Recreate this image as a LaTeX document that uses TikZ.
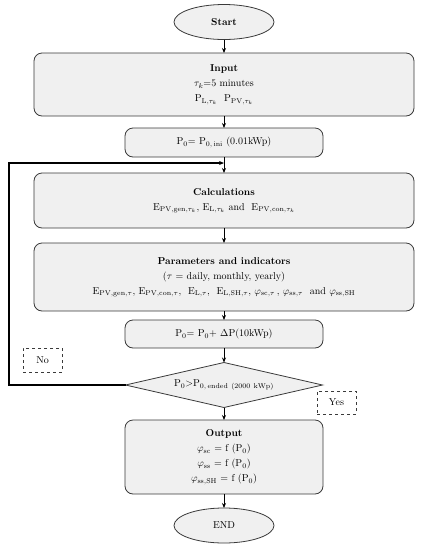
\documentclass[tikz,border=0pt]{standalone}
\usetikzlibrary{shapes.geometric,arrows.meta}
\definecolor{boxfill}{HTML}{F0F0F0}
\definecolor{boxline}{HTML}{3A3A3A}
\begin{document}
\begin{tikzpicture}[x=1pt,y=-1pt,
  font=\fontsize{10}{15}\selectfont,
  every node/.style={inner sep=0pt,outer sep=0pt,align=center},
  rbox/.style={draw=boxline,fill=boxfill,line width=0.8pt,rounded corners=8pt,rectangle},
  oval/.style={draw=boxline,fill=boxfill,line width=0.8pt,ellipse},
  decision/.style={draw=boxline,fill=boxfill,line width=0.8pt,diamond,aspect=4.38},
  tag/.style={draw=boxline,dashed,line width=0.8pt,fill=white,rectangle},
  arr/.style={-{Stealth[length=5pt,width=4pt]},line width=0.9pt,black},
  looparr/.style={-{Stealth[length=5pt,width=4pt]},line width=1.4pt,black}]
\useasboundingbox (0,0) rectangle (427,550);

\node[oval,minimum width=100pt,minimum height=35pt] (start) at (224,22) {\textbf{Start}};

\node[rbox,minimum width=380pt,minimum height=63pt] (input) at (224,84.5)
  {\textbf{Input}\\ $\tau_{k}$=5 minutes\\ $\mathrm{P}_{\mathrm{L},\tau_k}$\ \ $\mathrm{P}_{\mathrm{PV},\tau_k}$};

\node[rbox,minimum width=198pt,minimum height=29pt] (p0) at (224,142.5)
  {$\mathrm{P}_{0}$= $\mathrm{P}_{0,\,\mathrm{ini}}$ (0.01kWp)};

\node[rbox,minimum width=380pt,minimum height=55pt] (calc) at (224,200.5)
  {\textbf{Calculations}\\ $\mathrm{E}_{\mathrm{PV,gen},\tau_k}$, $\mathrm{E}_{\mathrm{L},\tau_k}$ and\ \ $\mathrm{E}_{\mathrm{PV,con},\tau_k}$};

\node[rbox,minimum width=380pt,minimum height=68pt] (param) at (224,277)
  {\textbf{Parameters and indicators}\\ ($\tau$ = daily, monthly, yearly)\\
   $\mathrm{E}_{\mathrm{PV,gen},\tau}$, $\mathrm{E}_{\mathrm{PV,con},\tau}$,\ \ $\mathrm{E}_{\mathrm{L},\tau}$,\ \ $\mathrm{E}_{\mathrm{L,SH},\tau}$, $\varphi_{\mathrm{sc},\tau}$\,, $\varphi_{\mathrm{ss},\tau}$\ \ and $\varphi_{\mathrm{ss,SH}}$};

\node[rbox,minimum width=198pt,minimum height=28pt] (pinc) at (224,334)
  {$\mathrm{P}_{0}$= $\mathrm{P}_{0}$+ $\Delta$P(10kWp)};

\node[tag,minimum width=39pt,minimum height=24pt] (no) at (42.5,360) {No};
\node[tag,minimum width=39pt,minimum height=23pt] (yes) at (336.5,402.5) {Yes};

\node[decision,minimum width=197pt,minimum height=45pt] (dia) at (224,385)
  {$\mathrm{P}_{0}$>$\mathrm{P}_{0,\,\mathrm{ended\ (2000\ kWp)}}$};

\node[rbox,minimum width=198pt,minimum height=74pt] (out) at (224,457)
  {\textbf{Output}\\ $\varphi_{\mathrm{sc}}$ = f ($\mathrm{P}_{0}$)\\ $\varphi_{\mathrm{ss}}$ = f ($\mathrm{P}_{0}$)\\ $\varphi_{\mathrm{ss,SH}}$ = f ($\mathrm{P}_{0}$)};

\node[oval,minimum width=100pt,minimum height=35pt] (end) at (224,525.5) {END};

\coordinate (join) at (224,163);
\coordinate (lc) at (9,163);

\draw[arr] (start) -- (input);
\draw[arr] (input) -- (p0);
\draw[arr] (p0) -- (calc);
\draw[arr] (calc) -- (param);
\draw[arr] (param) -- (pinc);
\draw[arr] (pinc) -- (dia);
\draw[arr] (dia) -- (out);
\draw[arr] (out) -- (end);
\draw[looparr] (dia.west) -| (lc) -- (join);
\end{tikzpicture}
\end{document}
